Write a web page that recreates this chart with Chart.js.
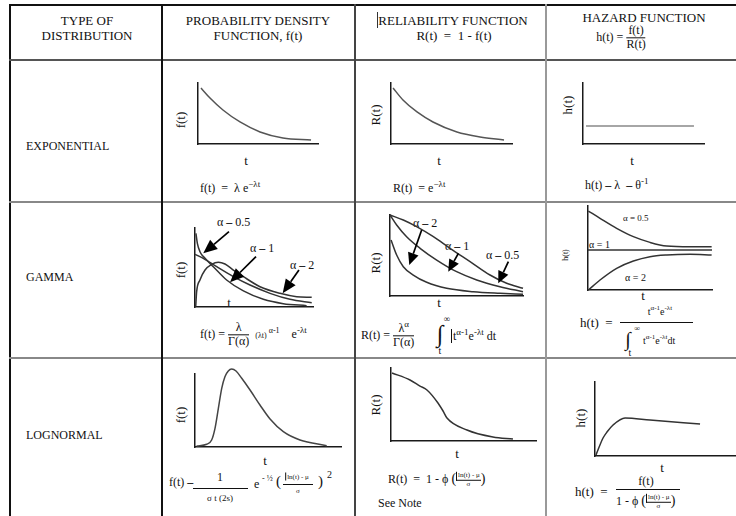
<!DOCTYPE html>
<html>
<head>
<meta charset="utf-8">
<script src="https://cdn.jsdelivr.net/npm/chart.js@4.4.1/dist/chart.umd.min.js"></script>
<style>
  body { margin: 0; background: #fff; }
  #page { position: relative; width: 736px; height: 516px; overflow: hidden; font-family: "Liberation Serif", serif; color: #111; }
  .ln { position: absolute; }
  .t { position: absolute; white-space: nowrap; line-height: 1; transform: translateY(-50%); font-size: 13px; }
  .c { position: absolute; white-space: nowrap; line-height: 1; transform: translate(-50%, -50%); font-size: 13px; }
  .r { position: absolute; white-space: nowrap; line-height: 1; transform: translate(-50%, -50%) rotate(-90deg); font-size: 13px; }
  .lab { font-size: 12px; }
  .sm { font-size: 9px; }
  sup { font-size: 9px; vertical-align: 5px; line-height: 0; }
  .frac { display: inline-flex; flex-direction: column; vertical-align: middle; text-align: center; line-height: 1.1; }
  .frac > span:first-child { border-bottom: 1px solid #111; padding: 0 1px; }
  .bar { position: absolute; height: 1px; background: #111; }
  canvas { position: absolute; }
</style>
</head>
<body>
<div id="page">
  <!-- table rules -->
  <div class="ln" style="left:9px;top:4px;width:727px;height:1.5px;background:#111"></div>
  <div class="ln" style="left:9px;top:4px;width:1.5px;height:512px;background:#111"></div>
  <div class="ln" style="left:9px;top:59px;width:727px;height:2px;background:#555"></div>
  <div class="ln" style="left:9px;top:201px;width:727px;height:2px;background:#888"></div>
  <div class="ln" style="left:9px;top:357px;width:727px;height:2px;background:#888"></div>
  <div class="ln" style="left:161px;top:4px;width:1.5px;height:512px;background:#111"></div>
  <div class="ln" style="left:354px;top:4px;width:1.5px;height:512px;background:#444"></div>
  <div class="ln" style="left:545px;top:4px;width:2px;height:512px;background:#999"></div>

  <!-- header -->
  <div class="c" style="left:87px;top:20px">TYPE OF</div>
  <div class="c" style="left:87px;top:35px">DISTRIBUTION</div>
  <div class="c" style="left:258px;top:20px">PROBABILITY DENSITY</div>
  <div class="c" style="left:258px;top:35px">FUNCTION, f(t)</div>
  <div class="ln" style="left:377px;top:12px;width:1px;height:16px;background:#333"></div>
  <div class="c" style="left:453px;top:20px">RELIABILITY FUNCTION</div>
  <div class="c" style="left:454px;top:35px">R(t) &nbsp;= &nbsp;1 - f(t)</div>
  <div class="c" style="left:644px;top:17px">HAZARD FUNCTION</div>
  <div class="c" style="left:621px;top:38px;font-size:12px">h(t) = <span class="frac"><span>f(t)</span><span>R(t)</span></span></div>

  <!-- row labels -->
  <div class="t lab" style="left:26px;top:146px">EXPONENTIAL</div>
  <div class="t lab" style="left:26px;top:277px">GAMMA</div>
  <div class="t lab" style="left:26px;top:435px">LOGNORMAL</div>

  <!-- axis labels -->
  <div class="r" style="left:180px;top:120px">f(t)</div>
  <div class="c" style="left:246px;top:160px">t</div>
  <div class="r" style="left:375px;top:115px">R(t)</div>
  <div class="c" style="left:439px;top:160px">t</div>
  <div class="r" style="left:567px;top:105px">h(t)</div>
  <div class="c" style="left:632px;top:160px">t</div>

  <div class="r" style="left:180px;top:270px">f(t)</div>
  <div class="c" style="left:229px;top:302px">t</div>
  <div class="r" style="left:375px;top:263px">R(t)</div>
  <div class="c" style="left:439px;top:302px">t</div>
  <div class="r sm" style="left:566px;top:255px;font-size:8px">h(t)</div>
  <div class="c" style="left:643px;top:295px">t</div>

  <div class="r" style="left:180px;top:415px">f(t)</div>
  <div class="c" style="left:265px;top:460px">t</div>
  <div class="r" style="left:375px;top:405px">R(t)</div>
  <div class="c" style="left:457px;top:453px">t</div>
  <div class="r" style="left:580px;top:418px">h(t)</div>
  <div class="c" style="left:662px;top:467px">t</div>

  <!-- curve labels -->
  <div class="t lab" style="left:217px;top:222px">α <b>–</b> 0.5</div>
  <div class="t lab" style="left:250px;top:248px">α <b>–</b> 1</div>
  <div class="t lab" style="left:290px;top:265px">α <b>–</b> 2</div>
  <div class="t lab" style="left:413px;top:223px">α <b>–</b> 2</div>
  <div class="t lab" style="left:445px;top:246px">α <b>–</b> 1</div>
  <div class="t lab" style="left:486px;top:255px">α <b>–</b> 0.5</div>
  <div class="t sm" style="left:623px;top:218px">α = 0.5</div>
  <div class="t" style="left:589px;top:245px;font-size:10px">α = 1</div>
  <div class="t" style="left:625px;top:278px;font-size:10px">α = 2</div>

  <!-- formulas -->
  <div class="t" style="left:200px;top:188px;font-size:12px">f(t) &nbsp;= &nbsp;λ e<sup>−λt</sup></div>
  <div class="t" style="left:393px;top:188px;font-size:12px">R(t) &nbsp;= e<sup>−λt</sup></div>
  <div class="t" style="left:585px;top:185px;font-size:12px">h(t) <b>–</b> λ &nbsp;<b>–</b> θ<sup>-1</sup></div>

  <div class="t" style="left:200px;top:335px;font-size:12px">f(t) = <span class="frac"><span>λ</span><span>Γ(α)</span></span> &nbsp;<span style="font-size:8px">(λt)</span><sup style="font-size:8px">&nbsp;α-1</sup> &nbsp; &nbsp;e<sup>-λt</sup></div>

  <div class="t" style="left:361px;top:336px;font-size:12px">R(t) = <span class="frac"><span>λ<sup>α</sup></span><span>Γ(α)</span></span></div>
  <div class="c" style="left:440px;top:334px;font-size:24px">∫</div>
  <div class="c" style="left:447px;top:319px;font-size:9px">∞</div>
  <div class="c" style="left:440px;top:351px;font-size:10px">t</div>
  <div class="t" style="left:451px;top:336px;font-size:12px"><span style="border-left:1px solid #111;padding-left:1px">t</span><sup>α-1</sup>e<sup>-λt</sup> dt</div>

  <div class="t" style="left:580px;top:322px;font-size:13px">h(t) &nbsp;=</div>
  <div class="c" style="left:660px;top:312px;font-size:10px">t<sup style="font-size:7px">α-1</sup>e<sup style="font-size:7px">-λt</sup></div>
  <div class="bar" style="left:620px;top:322px;width:73px"></div>
  <div class="c" style="left:628px;top:339px;font-size:20px">∫</div>
  <div class="c" style="left:637px;top:329px;font-size:8px">∞</div>
  <div class="c" style="left:630px;top:353px;font-size:10px">t</div>
  <div class="t" style="left:643px;top:341px;font-size:10px">t<sup style="font-size:7px">α-1</sup>e<sup style="font-size:7px">-λt</sup>dt</div>

  <div class="t" style="left:169px;top:482px;font-size:12px">f(t) <b>–</b></div>
  <div class="c" style="left:220px;top:477px;font-size:12px">1</div>
  <div class="bar" style="left:193px;top:488px;width:55px"></div>
  <div class="c" style="left:220px;top:498px;font-size:9px">σ t (2s)</div>
  <div class="t" style="left:254px;top:484px;font-size:12px">e</div>
  <div class="t" style="left:262px;top:479px;font-size:8px">- ½</div>
  <div class="t" style="left:276px;top:481px;font-size:15px">(</div>
  <div class="c" style="left:297px;top:477px;font-size:7px"><span style="border-left:1px solid #111;padding-left:1px">ln(t) - μ</span></div>
  <div class="bar" style="left:283px;top:484px;width:30px"></div>
  <div class="c" style="left:298px;top:491px;font-size:7px">σ</div>
  <div class="t" style="left:318px;top:481px;font-size:15px">)</div>
  <div class="t" style="left:327px;top:475px;font-size:10px">2</div>

  <div class="t" style="left:388px;top:480px;font-size:12px">R(t) &nbsp;= &nbsp;1 - ϕ <span style="font-size:14px">(</span><span class="frac" style="font-size:7px"><span style="border-left:1px solid #111">ln(t) - μ</span><span>σ</span></span><span style="font-size:14px">)</span></div>
  <div class="t" style="left:378px;top:503px;font-size:12px">See Note</div>

  <div class="t" style="left:575px;top:491px;font-size:13px">h(t) &nbsp;=</div>
  <div class="c" style="left:646px;top:481px;font-size:12px">f(t)</div>
  <div class="bar" style="left:616px;top:489px;width:64px"></div>
  <div class="t" style="left:616px;top:502px;font-size:12px">1 - ϕ <span style="font-size:14px">(</span><span class="frac" style="font-size:7px"><span style="border-left:1px solid #111">ln(t) - μ</span><span>σ</span></span><span style="font-size:14px">)</span></div>
</div>

<script>
// exponential
const expPdfX = [0.25, 1.0, 2.08, 3.5, 5.17, 7.08, 9.42];
const expPdfY = [9.18, 7.54, 5.57, 3.61, 1.97, 0.98, 0.66];
const expRelX = [0.17, 0.99, 2.15, 3.47, 5.45, 7.36, 9.34];
const expRelY = [9.18, 7.21, 5.25, 3.61, 1.97, 1.15, 0.66];
const expHazX = [0.25, 9.17];
const expHazY = [2.95, 2.95];

// gamma pdf
const gamPdfX05 = [0.08, 0.2, 0.42, 0.85, 1.55, 2.68, 4.1, 5.79, 7.48, 9.46];
const gamPdfY05 = [9.33, 8.06, 7.0, 6.16, 5.1, 3.42, 2.03, 0.97, 0.42, 0.17];
const gamPdfX1 = [0, 0.7, 1.84, 3.25, 4.66, 6.36, 8.05, 9.89];
const gamPdfY1 = [6.67, 6.16, 5.1, 3.84, 2.78, 1.73, 0.97, 0.54];
const gamPdfX2 = [0.06, 0.14, 0.42, 0.85, 1.41, 1.98, 2.54, 3.25, 4.1, 5.51, 7.2, 8.62, 9.89];
const gamPdfY2 = [0.04, 1.94, 3.42, 4.68, 5.4, 5.66, 5.44, 4.68, 3.84, 2.57, 1.73, 1.3, 1.22];
const gamPdfArrowFrom = [[2.88, 9.53], [5.17, 6.37], [8.81, 4.68]];
const gamPdfArrowTo = [[0.7, 6.8], [2.97, 3.12], [7.43, 1.73]];

// gamma reliability
const gamRelXa = [0, 1.0, 2.0, 3.26, 4.51, 6.02, 7.52, 8.77, 10.0];
const gamRelYa = [10, 9.38, 8.56, 7.32, 5.89, 4.24, 2.59, 1.57, 0.95];
const gamRelXb = [0, 0.5, 1.25, 2.26, 3.51, 5.01, 6.52, 8.27, 10.0];
const gamRelYb = [10, 8.77, 7.32, 5.89, 4.44, 3.0, 1.98, 1.15, 0.53];
const gamRelXc = [0.08, 0.5, 1.0, 1.75, 2.76, 4.26, 6.26, 8.27, 10.0];
const gamRelYc = [6.91, 5.06, 3.62, 2.59, 1.69, 0.95, 0.53, 0.33, 0.21];
const gamRelArrowFrom = [[2.38, 8.15], [5.14, 5.27], [8.9, 4.24]];
const gamRelArrowTo = [[1.45, 3.83], [4.38, 3.0], [8.14, 1.57]];

// gamma hazard
const gamHazX05 = [0.03, 0.97, 2.31, 3.66, 5.0, 6.35, 8.23, 9.97];
const gamHazY05 = [9.4, 8.53, 7.34, 6.35, 5.67, 5.24, 5.16, 5.16];
const gamHazX1 = [0, 10];
const gamHazY1 = [4.76, 4.76];
const gamHazX2 = [0.03, 0.97, 2.31, 3.66, 5.0, 6.35, 8.23, 9.97];
const gamHazY2 = [0, 1.19, 2.58, 3.45, 3.97, 4.17, 4.25, 4.17];

// lognormal
const logPdfX = [0.11, 0.8, 1.14, 1.37, 1.6, 1.83, 2.05, 2.28, 2.51, 2.81, 3.2, 3.77, 4.45, 5.14, 6.05, 7.19, 9.02];
const logPdfY = [0.14, 0.37, 0.96, 2.56, 5.3, 8.04, 9.63, 10.41, 10.68, 10.41, 9.41, 7.81, 5.75, 3.84, 2.1, 0.96, 0.18];
const logRelX = [0.07, 1.31, 2.0, 2.48, 3.24, 3.59, 3.86, 5.24, 7.03, 8.41];
const logRelY = [9.32, 8.36, 7.53, 6.99, 5.21, 4.11, 3.15, 1.51, 0.55, 0.27];
const logHazX = [0.07, 0.57, 0.85, 1.28, 2.13, 3.9, 7.45];
const logHazY = [0.14, 2.43, 3.24, 4.19, 5.14, 4.86, 4.32];

const pts = (xs, ys) => xs.map((x, i) => ({ x: x, y: ys[i] }));

const arrowPlugin = {
  id: 'arrows',
  afterDatasetsDraw(chart, args, opts) {
    if (!opts.from) return;
    const ctx = chart.ctx;
    const sx = chart.scales.x, sy = chart.scales.y;
    const L = opts.len, W = opts.half;
    opts.from.forEach((f, i) => {
      const t = opts.to[i];
      const x1 = sx.getPixelForValue(f[0]), y1 = sy.getPixelForValue(f[1]);
      const x2 = sx.getPixelForValue(t[0]), y2 = sy.getPixelForValue(t[1]);
      const a = Math.atan2(y2 - y1, x2 - x1);
      const bx = x2 - L * Math.cos(a), by = y2 - L * Math.sin(a);
      ctx.save();
      ctx.strokeStyle = '#000';
      ctx.fillStyle = '#000';
      ctx.lineWidth = 1.7;
      ctx.beginPath();
      ctx.moveTo(x1, y1);
      ctx.lineTo(bx, by);
      ctx.stroke();
      ctx.beginPath();
      ctx.moveTo(x2, y2);
      ctx.lineTo(bx + W * Math.sin(a), by - W * Math.cos(a));
      ctx.lineTo(bx - W * Math.sin(a), by + W * Math.cos(a));
      ctx.closePath();
      ctx.fill();
      ctx.restore();
    });
  }
};

function miniChart(box, series, arrows) {
  const pad = 8;
  const cv = document.createElement('canvas');
  cv.width = box.xR - box.x0 + pad * 2;
  cv.height = box.yB - box.yT + pad * 2;
  cv.style.left = (box.x0 - pad) + 'px';
  cv.style.top = (box.yT - pad) + 'px';
  document.getElementById('page').appendChild(cv);
  const axis = {
    type: 'linear', min: 0, max: 10,
    ticks: { display: false },
    grid: { display: false, drawTicks: false },
    border: { display: true, color: '#1a1a1a', width: 1.5 }
  };
  return new Chart(cv, {
    type: 'scatter',
    data: {
      datasets: series.map(s => ({
        data: pts(s[0], s[1]),
        showLine: true,
        pointRadius: 0,
        borderColor: s[2] || '#333',
        borderWidth: 1.5,
        cubicInterpolationMode: 'monotone',
        clip: false
      }))
    },
    options: {
      responsive: false,
      animation: false,
      layout: { padding: pad },
      plugins: { legend: { display: false }, tooltip: { enabled: false }, arrows: arrows || {} },
      scales: { x: axis, y: axis }
    },
    plugins: [arrowPlugin]
  });
}

miniChart({ x0: 198, xR: 318, yT: 83, yB: 144 }, [[expPdfX, expPdfY, '#555']]);
miniChart({ x0: 391, xR: 512, yT: 83, yB: 144 }, [[expRelX, expRelY, '#555']]);
miniChart({ x0: 583, xR: 704, yT: 83, yB: 144 }, [[expHazX, expHazY, '#888']]);

miniChart({ x0: 195, xR: 313, yT: 228, yB: 307 },
  [[gamPdfX05, gamPdfY05], [gamPdfX1, gamPdfY1], [gamPdfX2, gamPdfY2]],
  { from: gamPdfArrowFrom, to: gamPdfArrowTo, len: 14, half: 6 });
miniChart({ x0: 390, xR: 523, yT: 215, yB: 296 },
  [[gamRelXa, gamRelYa], [gamRelXb, gamRelYb], [gamRelXc, gamRelYc]],
  { from: gamRelArrowFrom, to: gamRelArrowTo, len: 12, half: 5.5 });
miniChart({ x0: 588, xR: 712, yT: 206, yB: 290 },
  [[gamHazX05, gamHazY05], [gamHazX1, gamHazY1], [gamHazX2, gamHazY2]]);

miniChart({ x0: 195, xR: 341, yT: 374, yB: 447 }, [[logPdfX, logPdfY, '#444']]);
miniChart({ x0: 391, xR: 536, yT: 368, yB: 441 }, [[logRelX, logRelY]]);
miniChart({ x0: 595, xR: 736, yT: 382, yB: 456 }, [[logHazX, logHazY]]);
</script>
</body>
</html>
